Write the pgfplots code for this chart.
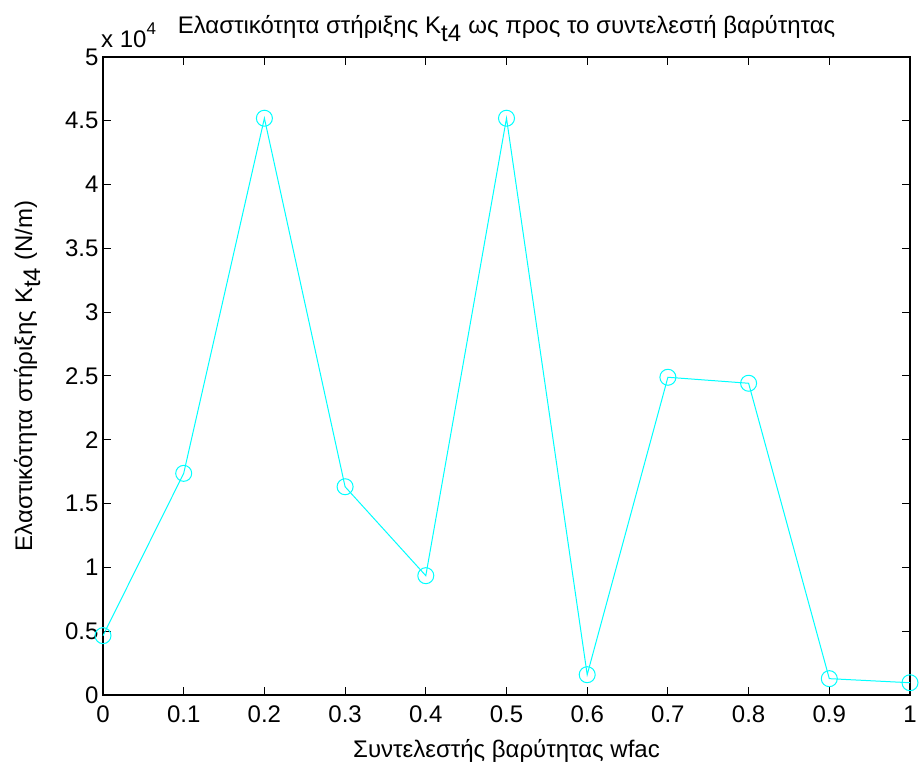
\documentclass[border=0pt]{standalone}
\usepackage{fontspec}
\setmainfont{Liberation Sans}
\usepackage{pgfplots}
\pgfplotsset{compat=1.18}
\usetikzlibrary{calc}
\definecolor{mcyan}{RGB}{0,255,255}
\newcommand{\mfont}{\fontsize{24}{28}\selectfont}

\begin{document}
\begin{tikzpicture}
\begin{axis}[
    name=ax,
    scale only axis,
    width=807pt, height=638pt,
    xmin=0, xmax=1, ymin=0, ymax=5,
    xtick={0,0.1,...,1.0},
    ytick={0,0.5,...,5},
    xticklabels={0,0.1,0.2,0.3,0.4,0.5,0.6,0.7,0.8,0.9,1},
    yticklabels={0,0.5,1,1.5,2,2.5,3,3.5,4,4.5,5},
    tick align=inside,
    major tick length=8pt,
    axis line style={line width=1.2pt},
    tick style={line width=1pt, black},
    /pgf/number format/assume math mode=true,
    ticklabel style={font=\mfont},
    xticklabel style={yshift=-7pt},
    yticklabel style={xshift=-1pt},
    label style={font=\mfont},
    xlabel={Συντελεστής βαρύτητας wfac},
    ylabel={Ελαστικότητα στήριξης K$_{\textrm{t4}}$ (N/m)},
    xlabel style={yshift=-10pt},
    ylabel style={yshift=18pt},
    title={Ελαστικότητα στήριξης K$_{\textrm{t4}}$ ως προς το συντελεστή βαρύτητας},
    title style={font=\mfont, yshift=6pt},
    clip=false,
]
\addplot[color=mcyan, line width=1pt, mark=o, mark size=8pt,
         mark options={line width=1pt}] coordinates {
    (0.0,0.465) (0.1,1.737) (0.2,4.52) (0.3,1.632) (0.4,0.935)
    (0.5,4.52) (0.6,0.159) (0.7,2.490) (0.8,2.443) (0.9,0.128) (1.0,0.096)
};
\node[anchor=south west, inner sep=0pt, xshift=-2pt, yshift=9pt, font=\mfont]
    at (rel axis cs:0,1) {x 10\raisebox{1.0ex}{\fontsize{17}{20}\selectfont 4}};
\end{axis}
\pgfresetboundingbox
\path[use as bounding box] ($(ax.south west)+(-103pt,-70pt)$) rectangle ($(ax.north east)+(11pt,57pt)$);
\end{tikzpicture}
\end{document}
